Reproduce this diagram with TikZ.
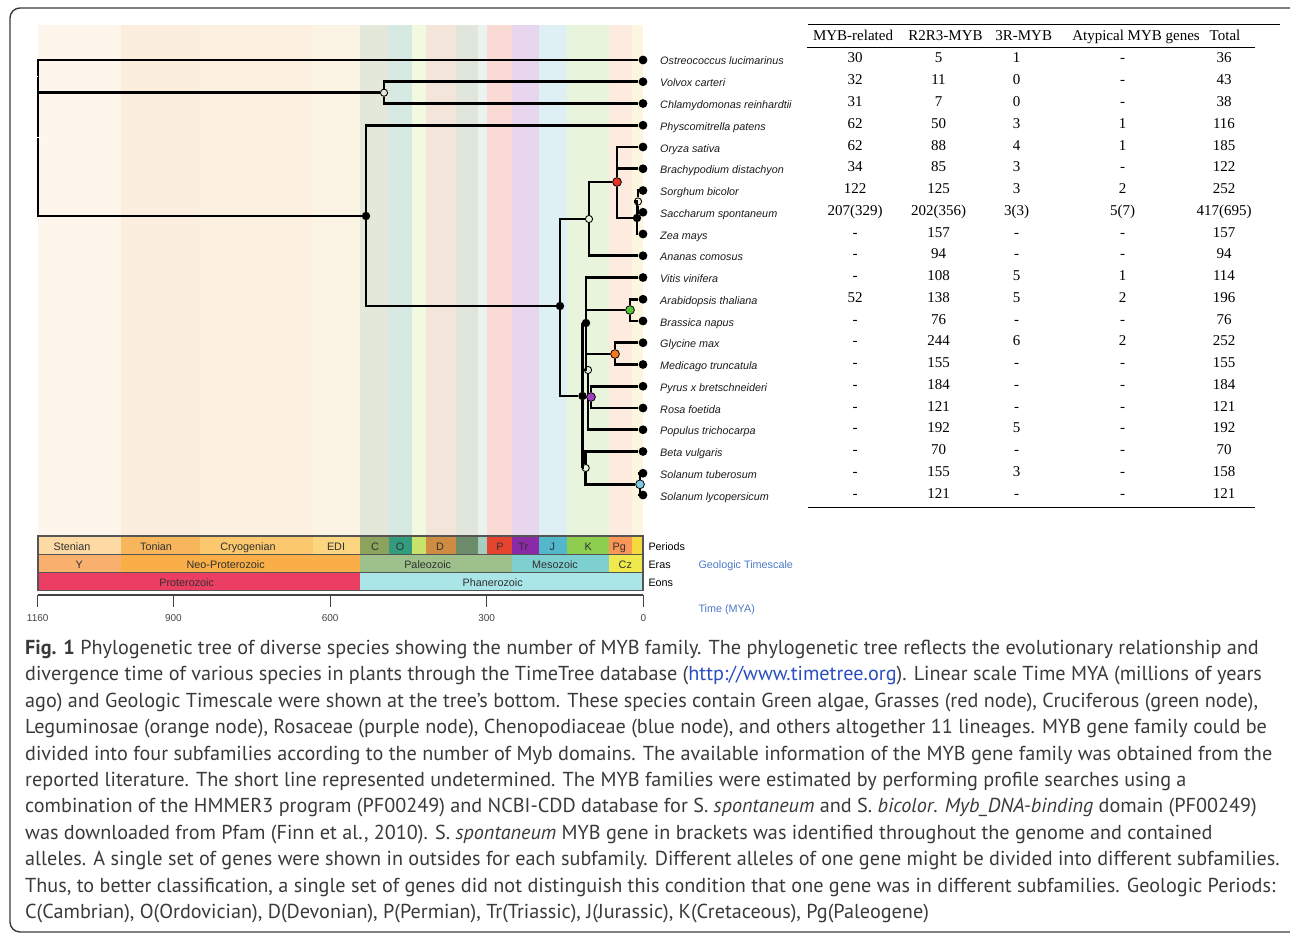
\documentclass[tikz,border=0pt]{standalone}
\usepackage{fontspec}
\setmainfont{Liberation Serif}
\newfontfamily\arialf{Liberation Sans}
\newfontfamily\capf{PT Sans}
\pgfdeclarelayer{stripes}
\pgfdeclarelayer{edges}
\pgfsetlayers{stripes,edges,main}
% stripe colours
\definecolor{sSte}{HTML}{FEF6EC}\definecolor{sTon}{HTML}{FCEEDC}\definecolor{sCry}{HTML}{FCF1E1}
\definecolor{sEdi}{HTML}{FBF3E3}\definecolor{sC}{HTML}{E3E8DA}\definecolor{sO}{HTML}{D6E9E2}
\definecolor{sS}{HTML}{F3F8E1}\definecolor{sD}{HTML}{F3E5DA}\definecolor{sCa1}{HTML}{E1E6DD}
\definecolor{sCa2}{HTML}{EAF3EF}\definecolor{sP}{HTML}{F9DAD5}\definecolor{sTr}{HTML}{E7D6EE}
\definecolor{sJ}{HTML}{DFF0F4}\definecolor{sK}{HTML}{E9F4DC}\definecolor{sPg}{HTML}{FEEBE0}
\definecolor{sN}{HTML}{FCF6DE}
% period colours
\definecolor{pSte}{HTML}{FDD9A3}\definecolor{pTon}{HTML}{F8B65C}\definecolor{pCry}{HTML}{FBC86E}
\definecolor{pEdi}{HTML}{FBD57F}\definecolor{pC}{HTML}{8CA35D}\definecolor{pO}{HTML}{339B7E}
\definecolor{pS}{HTML}{C8E26C}\definecolor{pD}{HTML}{CE8B42}\definecolor{pCa1}{HTML}{6B8B69}
\definecolor{pCa2}{HTML}{A5CDC0}\definecolor{pP}{HTML}{E5452F}\definecolor{pTr}{HTML}{8A2AA6}
\definecolor{pJ}{HTML}{52B7CA}\definecolor{pK}{HTML}{8ECE4E}\definecolor{pPg}{HTML}{FA9658}
\definecolor{pN}{HTML}{F4DA3C}
% era / eon colours
\definecolor{eY}{HTML}{F9AF6E}\definecolor{eNeo}{HTML}{F9AE48}\definecolor{ePal}{HTML}{9EC08B}
\definecolor{eMes}{HTML}{7ECFD0}\definecolor{eCz}{HTML}{EFE94E}
\definecolor{oPro}{HTML}{EB3E62}\definecolor{oPha}{HTML}{AAE5E7}
% misc
\definecolor{redn}{HTML}{E53222}\definecolor{grnn}{HTML}{56C03A}\definecolor{oran}{HTML}{F07B1E}
\definecolor{purn}{HTML}{9C3FC0}\definecolor{blun}{HTML}{7FC9E3}
\definecolor{spc}{HTML}{1A1A1A}\definecolor{glc}{HTML}{303030}\definecolor{tkc}{HTML}{444444}
\definecolor{blc}{HTML}{4A78C8}\definecolor{capc}{HTML}{3A3A3A}\definecolor{linkc}{HTML}{2B4EC0}
\definecolor{barc}{HTML}{555555}\definecolor{frc}{HTML}{3A3A3A}
\begin{document}
\begin{tikzpicture}[x=1pt,y=-1pt,
 br/.style={line width=2.9pt},
 leaf/.style={circle,fill=black,inner sep=0pt,minimum size=8.8pt},
 fnode/.style={circle,fill=black,inner sep=0pt,minimum size=8.4pt},
 onode/.style={circle,draw=black,line width=0.9pt,inner sep=0pt,minimum size=7.2pt},
 cnode/.style={circle,draw=black,line width=0.8pt,fill=#1,inner sep=0pt,minimum size=8.8pt},
 sp/.style={font=\arialf\itshape\fontsize{10.8}{12}\selectfont,text=spc,inner sep=0pt,anchor=base west},
 tb/.style={font=\fontsize{15}{17}\selectfont,inner sep=0pt,anchor=base},
 gl/.style={font=\arialf\fontsize{10.8}{12}\selectfont,text=glc,inner sep=0pt,anchor=base},
 tk/.style={font=\arialf\fontsize{10}{12}\selectfont,text=tkc,inner sep=0pt,anchor=base},
 bl/.style={font=\arialf\fontsize{10.8}{12}\selectfont,text=blc,inner sep=0pt,anchor=base west},
 rl/.style={font=\arialf\fontsize{10.8}{12}\selectfont,text=black,inner sep=0pt,anchor=base west},
 capline/.style={font=\capf\fontsize{20.2}{23}\selectfont,text=capc,inner sep=0pt,anchor=base west},
 rowbox/.style={draw=barc,line width=1.8pt},
 trule/.style={line width=1pt},
 frm/.style={draw=frc,line width=1.4pt,rounded corners=10pt},
 axln/.style={draw=tkc,line width=1.2pt},
]
\useasboundingbox (0,0) rectangle (1290,934);
% frame
\draw[frm] (1310,8) -- (10,8) -- (10,932) -- (1310,932);
% background stripes
\begin{pgfonlayer}{stripes}
\foreach \a/\b/\c in {37.7/120.5/sSte,120.5/199.5/sTon,199.5/313/sCry,313/360/sEdi,360/389/sC,
 389/411.5/sO,411.5/426/sS,426/456/sD,456/477.5/sCa1,477.5/487/sCa2,487/512/sP,512/538.7/sTr,
 538.7/567/sJ,567/608.5/sK,608.5/631.5/sPg,631.5/643.3/sN}
 {\fill[\c] (\a,25) rectangle (\b,536);}
\end{pgfonlayer}
% timescale bar
\foreach \a/\b/\c in {37.7/120.5/pSte,120.5/199.5/pTon,199.5/313/pCry,313/360/pEdi,360/389/pC,
 389/411.5/pO,411.5/426/pS,426/456/pD,456/477.5/pCa1,477.5/487/pCa2,487/512/pP,512/538.7/pTr,
 538.7/567/pJ,567/608.5/pK,608.5/631.5/pPg,631.5/643.3/pN}
 {\fill[\c] (\a,536) rectangle (\b,554.5);}
\foreach \a/\b/\c in {37.7/120.5/eY,120.5/360/eNeo,360/512/ePal,512/608.5/eMes,608.5/643.3/eCz}
 {\fill[\c] (\a,554.5) rectangle (\b,572.5);}
\foreach \a/\b/\c in {37.7/360/oPro,360/643.3/oPha}
 {\fill[\c] (\a,572.5) rectangle (\b,590.5);}
\draw[rowbox] (37.7,536) rectangle (643.3,554.5);
\draw[rowbox] (37.7,554.5) rectangle (643.3,572.5);
\draw[rowbox] (37.7,572.5) rectangle (643.3,590.5);
\foreach \x/\t/\n in {72/Stenian/1,156/Tonian/2,248/Cryogenian/3,336/EDI/4,375/C/5,400/O/6,440/D/7,
 500/P/8,523.3/Tr/9,552.3/J/10,588.3/K/11,619.3/Pg/12}
 {\node[gl] (per\n) at (\x,550.5) {\t};}
\foreach \x/\t/\n in {79.3/Y/1,225.7/Neo-Proterozoic/2,427.7/Paleozoic/3,555/Mesozoic/4,625.3/Cz/5}
 {\node[gl] (era\n) at (\x,568.5) {\t};}
\node[gl] (eon1) at (186.7,586.5) {Proterozoic};
\node[gl] (eon2) at (492.7,586.5) {Phanerozoic};
\node[rl] (lPer) at (648.3,550.5) {Periods};
\node[rl] (lEra) at (648.3,568.5) {Eras};
\node[rl] (lEon) at (648.3,586.5) {Eons};
\node[bl] (lGeo) at (698.3,568.8) {Geologic Timescale};
\node[bl] (lTime) at (698.3,612) {Time (MYA)};
% time axis
\draw[axln] (37.7,595) -- (643.3,595);
\foreach \x/\t/\n in {37.7/1160/1,173.4/900/2,330.1/600/3,486.7/300/4,643.3/0/5}
 {\draw[axln] (\x,595) -- (\x,606.5);
  \node[tk] (tk\n) at (\x,621) {\t};}
% leaves and species names
\foreach \i/\s in {1/Ostreococcus lucimarinus,2/Volvox carteri,3/Chlamydomonas reinhardtii,
 4/Physcomitrella patens,5/Oryza sativa,6/Brachypodium distachyon,7/Sorghum bicolor,
 8/Saccharum spontaneum,9/Zea mays,10/Ananas comosus,11/Vitis vinifera,12/Arabidopsis thaliana,
 13/Brassica napus,14/Glycine max,15/Medicago truncatula,16/Pyrus x bretschneideri,
 17/Rosa foetida,18/Populus trichocarpa,19/Beta vulgaris,20/Solanum tuberosum,
 21/Solanum lycopersicum}
 {\node[leaf] (L\i) at (643,{60+21.75*(\i-1)}) {};
  \node[sp] (S\i) at (660,{65+21.75*(\i-1)}) {\s};}
% internal nodes
\coordinate (root) at (38,138);
\node[onode] (nVC) at (384,92.7) {};
\node[fnode] (nLand) at (366,216) {};
\node[fnode] (nAng) at (560,306) {};
\node[onode] (nMono) at (589,219) {};
\node[cnode=redn] (nGrass) at (617,182) {};
\node[fnode] (nPan) at (637,218) {};
\node[onode] (nSS) at (638,201.5) {};
\node[fnode] (nEud) at (582.5,396) {};
\node[fnode] (nSR) at (586,323) {};
\node[cnode=grnn] (nGrn) at (630,310) {};
\node[cnode=oran] (nOra) at (615,354) {};
\node[onode] (nRos) at (588,370) {};
\node[cnode=purn] (nPur) at (591,397) {};
\node[onode] (nSA) at (585.7,468) {};
\node[cnode=blun] (nSol) at (640,484.3) {};
% branches
\begin{pgfonlayer}{edges}
\draw[br] (root) |- (L1);
\draw[br] (root) |- (nVC);
\draw[br] (root) |- (nLand);
\draw[br] (nVC) |- (L2);
\draw[br] (nVC) |- (L3);
\draw[br] (nLand) |- (L4);
\draw[br] (nLand) |- (nAng);
\draw[br] (nAng) |- (nMono);
\draw[br] (nAng) |- (nEud);
\draw[br] (nMono) |- (nGrass);
\draw[br] (nMono) |- (L10);
\draw[br] (nGrass) |- (L5);
\draw[br] (nGrass) |- (L6);
\draw[br] (nGrass) |- (nPan);
\draw[br] (nPan) |- (nSS);
\draw[br] (nPan) |- (L9);
\draw[br] (nSS) |- (L7);
\draw[br] (nSS) |- (L8);
\draw[br] (nEud) |- (nSR);
\draw[br] (nEud) |- (nSA);
\draw[br] (nSR) |- (L11);
\draw[br] (nSR) |- (nGrn);
\draw[br] (nSR) |- (nOra);
\draw[br] (nSR) |- (nRos);
\draw[br] (nGrn) |- (L12);
\draw[br] (nGrn) |- (L13);
\draw[br] (nOra) |- (L14);
\draw[br] (nOra) |- (L15);
\draw[br] (nRos) |- (nPur);
\draw[br] (nRos) |- (L18);
\draw[br] (nPur) |- (L16);
\draw[br] (nPur) |- (L17);
\draw[br] (nSA) |- (L19);
\draw[br] (nSA) |- (nSol);
\draw[br] (nSol) |- (L20);
\draw[br] (nSol) |- (L21);
\end{pgfonlayer}
\draw[white,line width=1pt] (35.5,76) -- (38,76);
\draw[white,line width=1pt] (35.5,137) -- (40.5,137);
% table
\draw[trule,line width=1.2pt] (808,24.5) -- (1280,24.5);
\draw[trule] (807,48) -- (1255,48);
\draw[trule] (808,507) -- (1255,507);
\node[tb] (h1) at (853,41) {MYB-related};
\node[tb] (h2) at (945.5,41) {R2R3-MYB};
\node[tb] (h3) at (1023.7,41) {3R-MYB};
\node[tb] (h4) at (1136,41) {Atypical MYB genes};
\node[tb] (h5) at (1225,41) {Total};
\foreach \i/\a/\b/\c/\d/\e in {1/30/5/1/-/36,2/32/11/0/-/43,3/31/7/0/-/38,4/62/50/3/1/116,
 5/62/88/4/1/185,6/34/85/3/-/122,7/122/125/3/2/252,8/207(329)/202(356)/3(3)/5(7)/417(695),
 9/-/157/-/-/157,10/-/94/-/-/94,11/-/108/5/1/114,12/52/138/5/2/196,13/-/76/-/-/76,
 14/-/244/6/2/252,15/-/155/-/-/155,16/-/184/-/-/184,17/-/121/-/-/121,18/-/192/5/-/192,
 19/-/70/-/-/70,20/-/155/3/-/158,21/-/121/-/-/121}
 {\node[tb] (ta\i) at (855,{63+21.75*(\i-1)}) {\a};
  \node[tb] (tbb\i) at (938.5,{63+21.75*(\i-1)}) {\b};
  \node[tb] (tc\i) at (1016.5,{63+21.75*(\i-1)}) {\c};
  \node[tb] (td\i) at (1122.5,{63+21.75*(\i-1)}) {\d};
  \node[tb] (te\i) at (1224,{63+21.75*(\i-1)}) {\e};}
% caption
\node[capline] (c1) at (25,654.5) {\textbf{Fig. 1} Phylogenetic tree of diverse species showing the number of MYB family. The phylogenetic tree reflects the evolutionary relationship and};
\node[capline] (c2) at (25,680.9) {divergence time of various species in plants through the TimeTree database (\textcolor{linkc}{http://www.timetree.org}). Linear scale Time MYA (millions of years};
\node[capline] (c3) at (25,707.3) {ago) and Geologic Timescale were shown at the tree’s bottom. These species contain Green algae, Grasses (red node), Cruciferous (green node),};
\node[capline] (c4) at (25,733.7) {Leguminosae (orange node), Rosaceae (purple node), Chenopodiaceae (blue node), and others altogether 11 lineages. MYB gene family could be};
\node[capline] (c5) at (25,760.1) {divided into four subfamilies according to the number of Myb domains. The available information of the MYB gene family was obtained from the};
\node[capline] (c6) at (25,786.5) {reported literature. The short line represented undetermined. The MYB families were estimated by performing profile searches using a};
\node[capline] (c7) at (25,812.9) {combination of the HMMER3 program (PF00249) and NCBI-CDD database for S. \textit{spontaneum} and S. \textit{bicolor}. \textit{Myb\_DNA-binding} domain (PF00249)};
\node[capline] (c8) at (25,839.3) {was downloaded from Pfam (Finn et al., 2010). S. \textit{spontaneum} MYB gene in brackets was identified throughout the genome and contained};
\node[capline] (c9) at (25,865.7) {alleles. A single set of genes were shown in outsides for each subfamily. Different alleles of one gene might be divided into different subfamilies.};
\node[capline] (c10) at (25,892.1) {Thus, to better classification, a single set of genes did not distinguish this condition that one gene was in different subfamilies. Geologic Periods:};
\node[capline] (c11) at (25,918.5) {C(Cambrian), O(Ordovician), D(Devonian), P(Permian), Tr(Triassic), J(Jurassic), K(Cretaceous), Pg(Paleogene)};
\end{tikzpicture}
\end{document}
